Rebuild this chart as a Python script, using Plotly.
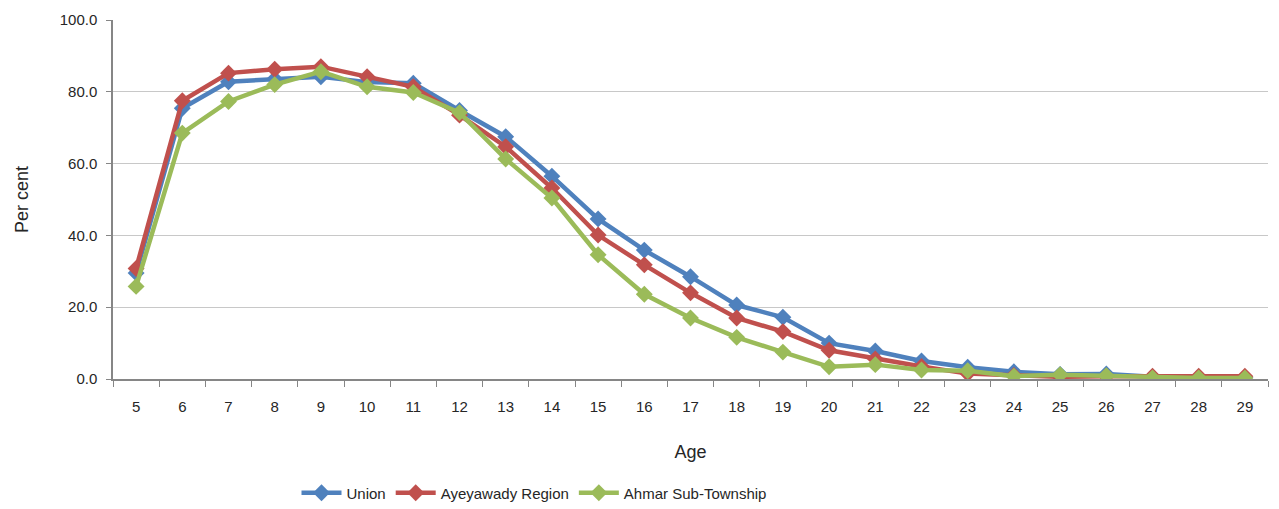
import plotly.graph_objects as go

ages = [str(a) for a in range(5, 30)]

union = [29.5, 75.4, 82.8, 83.6, 84.2, 82.7, 82.4, 74.8, 67.5, 56.5, 44.6, 35.9, 28.5,
         20.6, 17.2, 10.0, 7.8, 5.0, 3.3, 2.0, 1.3, 1.4, 0.6, 0.5, 0.4]
ayeyawady = [30.8, 77.5, 85.2, 86.3, 87.0, 84.2, 81.4, 73.5, 64.7, 53.2, 40.1, 31.8, 24.0,
             17.0, 13.2, 8.0, 5.6, 3.5, 1.5, 1.0, 0.6, 0.8, 0.8, 0.8, 0.8]
ahmar = [25.8, 68.5, 77.3, 82.0, 85.6, 81.4, 79.8, 74.2, 61.3, 50.4, 34.6, 23.6, 17.0,
         11.6, 7.5, 3.4, 4.0, 2.5, 2.3, 0.8, 1.2, 0.9, 0.3, 0.3, 0.3]

series = [
    ("Union", union, "#4F81BD"),
    ("Ayeyawady Region", ayeyawady, "#C0504D"),
    ("Ahmar Sub-Township", ahmar, "#9BBB59"),
]

fig = go.Figure()
for name, vals, color in series:
    fig.add_trace(go.Scatter(
        x=ages, y=vals, name=name, mode="lines+markers",
        line=dict(color=color, width=4.5),
        marker=dict(symbol="diamond", size=13, color=color),
    ))

font = dict(family="Liberation Sans, Arial, sans-serif", size=15, color="#262626")

fig.update_layout(
    width=1279, height=509,
    margin=dict(l=113, r=11, t=20, b=130, autoexpand=False),
    paper_bgcolor="white", plot_bgcolor="white",
    font=font,
    showlegend=True,
    legend=dict(orientation="h", x=534 / 1279, xanchor="center", xref="container",
                y=1 - 493 / 509, yanchor="middle", yref="container",
                font=dict(family="Liberation Sans, Arial, sans-serif", size=15, color="#262626"),
                itemwidth=40, tracegroupgap=0),
)
fig.update_xaxes(
    type="category", range=[-0.5, 24.5], tickson="boundaries", ticks="outside", ticklen=6,
    tickcolor="#868686", showline=True, linecolor="#868686", linewidth=1.5,
    showgrid=False, ticklabelstandoff=13,
    title=dict(text="Age", standoff=32), tickfont=font,
)
fig.update_yaxes(
    range=[0, 100], dtick=20, tickformat=".1f", ticks="outside", ticklen=5,
    tickcolor="#868686", showline=True, linecolor="#868686", linewidth=1.5,
    showgrid=True, gridcolor="#C8C8C8", gridwidth=1, zeroline=False,
    ticklabelstandoff=6,
    title=dict(text="Per cent", standoff=26), tickfont=font,
)

fig.write_html("out.html")
